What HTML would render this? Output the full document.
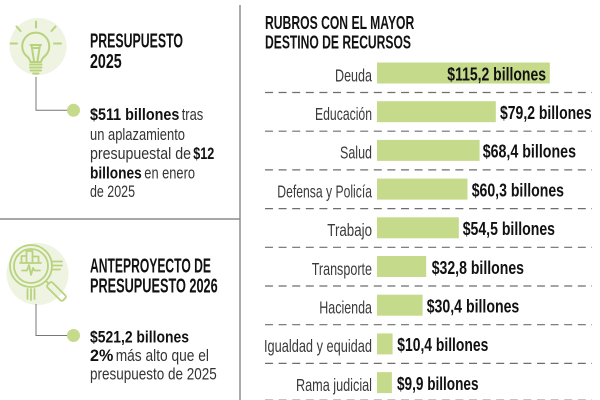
<!DOCTYPE html>
<html>
<head>
<meta charset="utf-8">
<style>
  html,body{margin:0;padding:0;background:#fff;}
  svg{display:block;}
  text{font-family:"Liberation Sans",Arial,sans-serif;}
  .t{font-weight:bold;fill:#111;font-size:20px;}
  .rt{font-weight:bold;fill:#111;font-size:18px;}
  .b{font-size:17px;fill:#333;}
  .bb{font-size:17px;fill:#111;font-weight:bold;}
  .lab{font-size:17.5px;fill:#3a3a3a;}
  .val{font-size:18px;fill:#111;font-weight:bold;}
</style>
</head>
<body>
<svg width="600" height="400" viewBox="0 0 600 400" xmlns="http://www.w3.org/2000/svg">
  <rect width="600" height="400" fill="#fff"/>

  <!-- dividers -->
  <line x1="240" y1="5" x2="240" y2="400" stroke="#aaaaaa" stroke-width="2"/>
  <line x1="0" y1="219" x2="240" y2="219" stroke="#8a8a8a" stroke-width="1.5"/>

  <!-- ===== Left top panel ===== -->
  <circle cx="38" cy="46.5" r="28.5" fill="#eef4e1"/>
  <g fill="none" stroke="#b9d27e" stroke-width="2" stroke-linecap="round" stroke-linejoin="round">
    <line x1="36" y1="21.5" x2="36" y2="27.5"/>
    <line x1="16.5" y1="26.5" x2="20.5" y2="31"/>
    <line x1="55.5" y1="26.5" x2="51.5" y2="31"/>
    <line x1="10.5" y1="43.5" x2="17" y2="43.5"/>
    <line x1="54" y1="43.5" x2="61" y2="43.5"/>
    <path d="M30.5 62 Q29.5 58 26 55.5 A13.5 13.5 0 1 1 45.5 55.5 Q42 58 41 62 Z"/>
    <path d="M30.5 45 L41 45 M31.5 45 L34 61 M40 45 L37.5 61 M33 48 L38.5 48"/>
    <line x1="30" y1="64.5" x2="41.5" y2="64.5"/>
    <line x1="30" y1="67.5" x2="41.5" y2="67.5"/>
    <line x1="30.5" y1="70.5" x2="41" y2="70.5"/>
    <line x1="33" y1="73.5" x2="38.5" y2="73.5"/>
  </g>
  <polyline points="36,77 36,110.3 68,110.3" fill="none" stroke="#777" stroke-width="1"/>
  <circle cx="73.5" cy="110.3" r="6.5" fill="#c6da8c"/>

  <text class="t" x="90" y="47.5" textLength="93" lengthAdjust="spacingAndGlyphs">PRESUPUESTO</text>
  <text class="t" x="90" y="67.8" textLength="31.7" lengthAdjust="spacingAndGlyphs">2025</text>

  <text class="bb" x="90" y="120" textLength="89.3" lengthAdjust="spacingAndGlyphs">$511 billones</text>
  <text class="b" x="181.7" y="120" textLength="21.6" lengthAdjust="spacingAndGlyphs">tras</text>
  <text class="b" x="90" y="139.8" textLength="95" lengthAdjust="spacingAndGlyphs">un aplazamiento</text>
  <text class="b" x="90" y="159" textLength="101" lengthAdjust="spacingAndGlyphs">presupuestal de</text>
  <text class="bb" x="193.3" y="159" textLength="21" lengthAdjust="spacingAndGlyphs">$12</text>
  <text class="bb" x="90" y="178.3" textLength="51.7" lengthAdjust="spacingAndGlyphs">billones</text>
  <text class="b" x="144.3" y="178.3" textLength="50.7" lengthAdjust="spacingAndGlyphs">en enero</text>
  <text class="b" x="90" y="197" textLength="45" lengthAdjust="spacingAndGlyphs">de 2025</text>

  <!-- ===== Left bottom panel ===== -->
  <circle cx="37.5" cy="274" r="31" fill="#eef4e1"/>
  <g fill="none" stroke="#b9d27e" stroke-width="1.8" stroke-linecap="round" stroke-linejoin="round">
    <circle cx="31" cy="266" r="21"/>
    <circle cx="31" cy="266" r="17"/>
    <g transform="rotate(45 31 266)">
      <line x1="52" y1="266" x2="56" y2="266"/>
      <rect x="56" y="262.5" width="22" height="7" rx="2"/>
    </g>
    <path d="M21.5 263 L21.5 256 L26.5 256 L26.5 263 M26.5 263 L26.5 251 L32.5 251 L32.5 263 M32.5 263 L32.5 256.5 L38.5 256.5 L38.5 263 M20 263 L41 263"/>
    <polyline points="22,270.5 27,270.5 29,265 31,275 33,268 34.5,270.5 40,270.5"/>
    <line x1="52" y1="261.5" x2="62" y2="261.5"/>
    <line x1="53" y1="265.5" x2="62" y2="265.5"/>
    <line x1="52" y1="269.5" x2="60" y2="269.5"/>
    <line x1="27.5" y1="289" x2="27.5" y2="299"/>
    <line x1="31" y1="289" x2="31" y2="300"/>
    <line x1="34.5" y1="289" x2="34.5" y2="299"/>
  </g>
  <polyline points="36,304 36,335.5 68,335.5" fill="none" stroke="#777" stroke-width="1"/>
  <circle cx="73.5" cy="335.5" r="6.5" fill="#c6da8c"/>

  <text class="t" x="90" y="272.7" textLength="121" lengthAdjust="spacingAndGlyphs">ANTEPROYECTO DE</text>
  <text class="t" x="90" y="292.7" textLength="127.7" lengthAdjust="spacingAndGlyphs">PRESUPUESTO 2026</text>

  <text class="bb" x="90" y="342.7" textLength="99" lengthAdjust="spacingAndGlyphs">$521,2 billones</text>
  <text class="bb" x="90" y="361" textLength="23.3" lengthAdjust="spacingAndGlyphs">2%</text>
  <text class="b" x="115.7" y="361" textLength="93.3" lengthAdjust="spacingAndGlyphs">más alto que el</text>
  <text class="b" x="90" y="379.3" textLength="126.7" lengthAdjust="spacingAndGlyphs">presupuesto de 2025</text>

  <!-- ===== Right panel ===== -->
  <text class="rt" x="265" y="29" textLength="149.3" lengthAdjust="spacingAndGlyphs">RUBROS CON EL MAYOR</text>
  <text class="rt" x="265" y="48.3" textLength="146" lengthAdjust="spacingAndGlyphs">DESTINO DE RECURSOS</text>

  <g stroke="#6e6e6e" stroke-width="1.2" stroke-dasharray="8 5.6">
    <line x1="265" y1="92.5" x2="592" y2="92.5"/>
    <line x1="265" y1="131.2" x2="592" y2="131.2"/>
    <line x1="265" y1="169.9" x2="592" y2="169.9"/>
    <line x1="265" y1="208.6" x2="592" y2="208.6"/>
    <line x1="265" y1="247.3" x2="592" y2="247.3"/>
    <line x1="265" y1="286" x2="592" y2="286"/>
    <line x1="265" y1="324.7" x2="592" y2="324.7"/>
    <line x1="265" y1="363.4" x2="592" y2="363.4"/>
  </g>
  <line x1="265" y1="399.6" x2="592" y2="399.6" stroke="#bbbbbb" stroke-width="1" stroke-dasharray="8 5.6"/>

  <g fill="#c6da8c">
    <rect x="377" y="62.5" width="172.8" height="21"/>
    <rect x="377" y="101.2" width="118.8" height="21"/>
    <rect x="377" y="139.9" width="102.6" height="21"/>
    <rect x="377" y="178.6" width="90.5" height="21"/>
    <rect x="377" y="217.3" width="81.8" height="21"/>
    <rect x="377" y="256" width="49.2" height="21"/>
    <rect x="377" y="294.7" width="45.6" height="21"/>
    <rect x="377" y="333.4" width="15.6" height="21"/>
    <rect x="377" y="372.1" width="14.9" height="21"/>
  </g>

  <text class="lab" x="335" y="81.3" textLength="37" lengthAdjust="spacingAndGlyphs">Deuda</text>
  <text class="lab" x="315" y="120.2" textLength="57" lengthAdjust="spacingAndGlyphs">Educación</text>
  <text class="lab" x="340" y="158.7" textLength="32" lengthAdjust="spacingAndGlyphs">Salud</text>
  <text class="lab" x="277.3" y="197.4" textLength="94.7" lengthAdjust="spacingAndGlyphs">Defensa y Policía</text>
  <text class="lab" x="327.3" y="236.1" textLength="44.7" lengthAdjust="spacingAndGlyphs">Trabajo</text>
  <text class="lab" x="311.7" y="274.8" textLength="60.3" lengthAdjust="spacingAndGlyphs">Transporte</text>
  <text class="lab" x="319.3" y="313.5" textLength="52.7" lengthAdjust="spacingAndGlyphs">Hacienda</text>
  <text class="lab" x="264" y="352.2" textLength="108" lengthAdjust="spacingAndGlyphs">Igualdad y equidad</text>
  <text class="lab" x="296" y="390.9" textLength="76" lengthAdjust="spacingAndGlyphs">Rama judicial</text>

  <text class="val" x="447.3" y="80.3" textLength="98.7" lengthAdjust="spacingAndGlyphs">$115,2 billones</text>
  <text class="val" x="500" y="119" textLength="91.7" lengthAdjust="spacingAndGlyphs">$79,2 billones</text>
  <text class="val" x="482.7" y="157.7" textLength="93.3" lengthAdjust="spacingAndGlyphs">$68,4 billones</text>
  <text class="val" x="471.7" y="196.4" textLength="92.3" lengthAdjust="spacingAndGlyphs">$60,3 billones</text>
  <text class="val" x="462.7" y="235.1" textLength="92.3" lengthAdjust="spacingAndGlyphs">$54,5 billones</text>
  <text class="val" x="431.7" y="273.8" textLength="92.3" lengthAdjust="spacingAndGlyphs">$32,8 billones</text>
  <text class="val" x="426.7" y="312.5" textLength="92.6" lengthAdjust="spacingAndGlyphs">$30,4 billones</text>
  <text class="val" x="397.3" y="351.2" textLength="91" lengthAdjust="spacingAndGlyphs">$10,4 billones</text>
  <text class="val" x="397" y="389.9" textLength="81.5" lengthAdjust="spacingAndGlyphs">$9,9 billones</text>
</svg>
</body>
</html>
